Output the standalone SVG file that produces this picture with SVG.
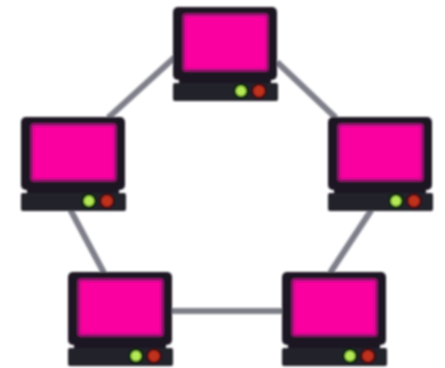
<svg xmlns="http://www.w3.org/2000/svg" width="445" height="368" viewBox="0 0 445 368">
<style>
.link{stroke:#7f7f8a;stroke-width:6;fill:none}
.body{fill:#1c1622}
.base{fill:#24222a}
.screen{fill:#fb00a0;stroke:#a8107c;stroke-width:3}
.green{fill:#b4ea55}
.red{fill:#c0301c}
.halo{fill:#0c2a10}
.halo2{fill:#3a1014}
</style>
<defs>
<filter id="soft" x="-5%" y="-5%" width="110%" height="110%"><feGaussianBlur stdDeviation="0.9"/></filter>
<g id="pc">
<rect class="body" x="0" y="0" width="104" height="73" rx="5"/>
<rect class="screen" x="11" y="8" width="83" height="55" rx="2"/>
<rect class="body" x="6" y="70" width="92" height="8"/>
<rect class="base" x="0" y="76" width="105" height="18" rx="2"/>
<circle class="halo" cx="68" cy="84" r="8"/>
<circle class="halo2" cx="86" cy="84" r="8"/>
<circle class="green" cx="68" cy="84" r="5"/>
<circle class="red" cx="86" cy="84" r="5.5"/>
</g>
</defs>
<g filter="url(#soft)">
<g id="connectors">
<line class="link" x1="175" y1="57" x2="108" y2="118"/>
<line class="link" x1="277" y1="62" x2="336" y2="118"/>
<line class="link" x1="70" y1="209" x2="104" y2="273"/>
<line class="link" x1="372" y1="209" x2="330" y2="273"/>
<line class="link" x1="171" y1="311" x2="283" y2="311"/>
</g>
<g id="node-top"><use href="#pc" x="173" y="7"/></g>
<g id="node-left"><use href="#pc" x="21" y="117"/></g>
<g id="node-right"><use href="#pc" x="328" y="117"/></g>
<g id="node-bottom-left"><use href="#pc" x="68" y="272"/></g>
<g id="node-bottom-right"><use href="#pc" x="282" y="272"/></g>
</g>
</svg>
